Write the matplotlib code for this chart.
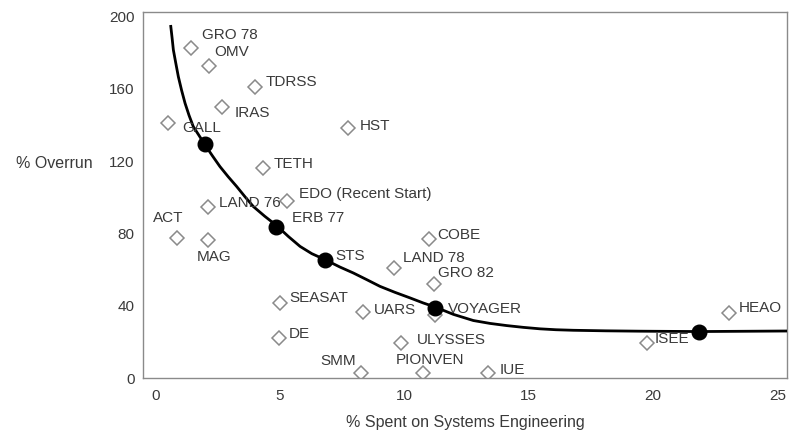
import matplotlib
matplotlib.use("Agg")
import matplotlib.pyplot as plt

# ---- data ----
proj_names = ["GRO 78", "OMV", "TDRSS", "IRAS", "GALL", "HST", "TETH",
              "EDO (Recent Start)", "LAND 76", "ACT", "MAG", "SEASAT", "UARS",
              "DE", "ULYSSES", "SMM", "PIONVEN", "IUE", "LAND 78", "COBE",
              "GRO 82", "VOYAGER", "ISEE", "HEAO"]
proj_x = [1.44, 2.16, 4.01, 2.68, 0.51, 7.75, 4.33, 5.30, 2.12, 0.88, 2.12,
          5.01, 8.35, 4.97, 9.88, 8.27, 10.76, 13.37, 9.59, 11.00, 11.20,
          11.24, 19.76, 23.06]
proj_y = [182.6, 172.7, 161.0, 150.0, 141.2, 138.4, 116.3, 98.1, 94.8, 77.6,
          76.5, 41.7, 36.7, 22.4, 19.1, 2.5, 2.5, 2.5, 61.0, 77.1, 52.2, 35.1,
          19.1, 36.2]

dot_names = ["", "ERB 77", "STS", "", ""]
dot_x = [2.00, 4.85, 6.82, 11.24, 21.85]
dot_y = [129.7, 83.7, 65.5, 38.9, 25.7]

curve_x = [0.62, 0.68, 0.73, 0.83, 0.93, 1.06, 1.20, 1.36, 1.53, 1.76, 2.00,
           2.30, 2.60, 2.93, 3.27, 3.60, 3.94, 4.40, 4.88, 5.35, 5.82, 6.29,
           6.82, 7.42, 7.96, 8.50, 9.03, 9.63, 10.24, 10.77, 11.24, 11.98,
           12.78, 13.45, 14.12, 14.80, 15.46, 16.10, 16.80, 18.10, 19.48,
           21.85, 25.40]
curve_y = [195.3, 188.0, 181.5, 174.0, 166.7, 159.2, 152.0, 145.3, 139.1,
           134.2, 129.0, 122.9, 117.0, 111.4, 106.0, 100.4, 94.9, 89.5, 84.3,
           78.3, 72.8, 68.8, 65.5, 61.4, 58.1, 54.4, 50.7, 47.4, 44.3, 41.5,
           39.3, 35.2, 31.8, 30.2, 29.0, 28.0, 27.2, 26.7, 26.4, 26.1, 25.9,
           25.7, 26.0]

x_ticks = [0, 5, 10, 15, 20, 25]
y_ticks = [0, 40, 80, 120, 160, 200]

# ---- label placement (pixel offsets: dx right, dy down) ----
label_offsets = {
    "GRO 78": (11, -13, "left"), "OMV": (5, -14, "left"),
    "TDRSS": (11, -5, "left"), "IRAS": (13, 6, "left"),
    "GALL": (14, 5, "left"), "HST": (12, -2, "left"),
    "TETH": (11, -4, "left"), "EDO (Recent Start)": (12, -7, "left"),
    "LAND 76": (11, -4, "left"), "ACT": (-9, -20, "center"),
    "MAG": (6, 17, "center"), "SEASAT": (9, -5, "left"),
    "UARS": (11, -2, "left"), "DE": (10, -4, "left"),
    "ULYSSES": (16, -3, "left"), "SMM": (-23, -12, "center"),
    "PIONVEN": (7, -13, "center"), "IUE": (12, -3, "left"),
    "LAND 78": (9, -10, "left"), "COBE": (8, -4, "left"),
    "GRO 82": (4, -11, "left"), "VOYAGER": (13, -6, "left"),
    "ISEE": (8, -4, "left"), "HEAO": (10, -5, "left"),
    "ERB 77": (16, -9, "left"), "STS": (10, -4, "left"),
}

plt.rcParams['font.family'] = ['Liberation Sans', 'DejaVu Sans']
W, H = 797, 443
fig = plt.figure(figsize=(W / 100, H / 100), dpi=100)
ax = fig.add_axes([143 / W, 1 - 378 / H, (787 - 143) / W, (378 - 12) / H])

txt_color = "#3a3a3a"
ax.plot(curve_x, curve_y, color="black", lw=2.0, zorder=3,
        solid_joinstyle="round", solid_capstyle="butt")
ax.plot(proj_x, proj_y, linestyle="none", marker="D", ms=6.8,
        mfc="white", mec="#8a8a8a", mew=1.1, zorder=2)
ax.plot(dot_x, dot_y, linestyle="none", marker="o", ms=10.5,
        color="black", zorder=4)

def lab(name, x, y):
    dx, dy, ha = label_offsets[name]
    ax.annotate(name, (x, y), xytext=(dx * 0.72, -dy * 0.72),
                textcoords="offset points", ha=ha, va="center",
                fontsize=11, color=txt_color, zorder=5)

for n, x, y in zip(proj_names, proj_x, proj_y):
    lab(n, x, y)
for n, x, y in zip(dot_names, dot_x, dot_y):
    if n:
        lab(n, x, y)

ax.set_xlim(-0.49, 25.38)
ax.set_ylim(0, 202.5)
ax.set_xticks(x_ticks)
ax.set_yticks(y_ticks)
ax.tick_params(length=0, labelsize=11, labelcolor=txt_color)
ax.tick_params(axis="x", pad=8)
ax.tick_params(axis="y", pad=6)
for s in ax.spines.values():
    s.set_color("#8a8a8a")
    s.set_linewidth(1.0)

fig.text(465 / W, 1 - 423 / H, "% Spent on Systems Engineering",
         ha="center", va="center", fontsize=11.5, color=txt_color)
fig.text(54 / W, 1 - 164 / H, "% Overrun", ha="center", va="center",
         fontsize=11.5, color=txt_color)

fig.savefig("out.png", dpi=100)
